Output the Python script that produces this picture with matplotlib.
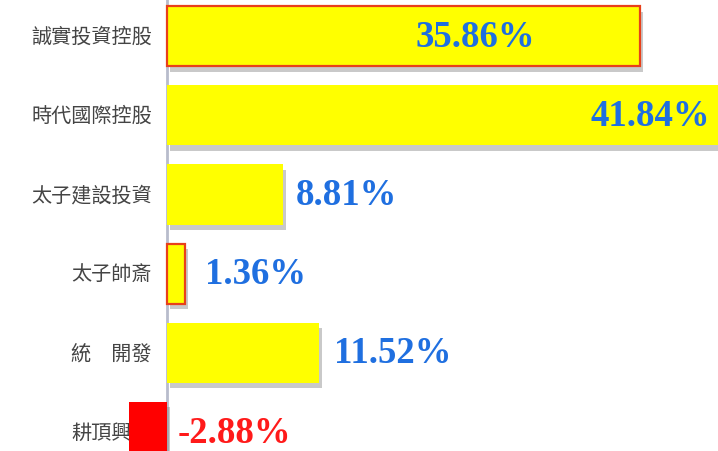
import matplotlib.pyplot as plt
import matplotlib.patheffects as pe
import numpy as np

plt.rcParams['font.family'] = ['Noto Sans CJK TC', 'DejaVu Sans']

# datos
empresas = ['誠實投資控股', '時代國際控股', '太子建設投資', '太子帥斎', '統　開發', '耕頂興業']
valores = [35.86, 41.84, 8.81, 1.36, 11.52, -2.88]

# estilo de cada barra
cores = ['#ffff00', '#ffff00', '#ffff00', '#ffff00', '#ffff00', '#ff0000']
bordas = ['#e8401a', 'none', 'none', '#e8401a', 'none', 'none']
cor_txt = ['#1f6fe0', '#1f6fe0', '#1f6fe0', '#1f6fe0', '#1f6fe0', '#ff1a1a']
# deslocamento do rotulo (pixels) relativo ao fim da barra
dx = [-225, -129, 13, 20, 15, 11]

fig = plt.figure(figsize=(7.18, 4.52), dpi=100)
ax = fig.add_axes([0, 0, 1, 1])

y = np.arange(len(valores))
barras = ax.barh(y, valores, height=0.76, color=cores, edgecolor=bordas,
                 linewidth=1.6, zorder=3)
for b in barras:
    b.set_path_effects([pe.SimplePatchShadow(offset=(2, -4), shadow_rgbFace='#888888', alpha=0.45),
                        pe.Normal()])

ax.set_xlim(-12.65, 41.75)
ax.set_ylim(5.24, -0.47)

# eixo vertical em zero
ax.axvline(0, color='#b8bccc', lw=2, zorder=2)
for s in ax.spines.values():
    s.set_visible(False)
ax.set_xticks([])
ax.set_yticks([])

# nomes das empresas
for i, nome in enumerate(empresas):
    ax.text(-1.15, i, nome, ha='right', va='center', fontsize=14.5,
            color='#444444', zorder=1)

# rotulos de valor
for i, v in enumerate(valores):
    base = max(v, 0)
    ax.annotate(f'{v:.2f}%', xy=(base, i), xytext=(dx[i] * 0.72, 0),
                textcoords='offset points', ha='left', va='center',
                fontsize=26.5, fontweight='bold', color=cor_txt[i],
                family='Liberation Serif', zorder=4, annotation_clip=False)

fig.savefig('out.png', dpi=100)
